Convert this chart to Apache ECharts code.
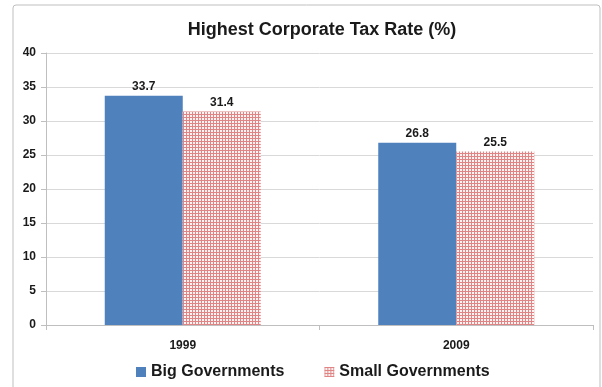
<!DOCTYPE html>
<html><head><meta charset="utf-8">
<script src="https://cdn.jsdelivr.net/npm/echarts@6/dist/echarts.min.js"></script>
<style>html,body{margin:0;padding:0;background:#fff}#c{width:602px;height:387px}</style>
</head><body><div id="c"></div>
<script>
const categories = ['1999', '2009'];
const bigGov = [33.7, 26.8];
const smallGov = [31.4, 25.5];
const yTicks = [0, 5, 10, 15, 20, 25, 30, 35, 40];

function makePattern() {
  const c = document.createElement('canvas');
  c.width = 3; c.height = 3;
  const g = c.getContext('2d');
  g.fillStyle = '#fdf2f2'; g.fillRect(0, 0, 3, 3);
  g.fillStyle = '#e08585';
  g.fillRect(0, 0, 3, 1);
  g.fillRect(0, 0, 1, 3);
  return c;
}
const pattern = { image: makePattern(), repeat: 'repeat' };

const chart = echarts.init(document.getElementById('c'), null, { renderer: 'canvas' });
const font = 'Liberation Sans, Arial, sans-serif';
chart.setOption({
  animation: false,
  textStyle: { fontFamily: font },
  title: {
    text: 'Highest Corporate Tax Rate (%)',
    left: 317, top: 16, textAlign: 'center',
    textStyle: { fontSize: 18, fontWeight: 'bold', color: '#1a1a1a', fontFamily: font }
  },
  graphic: [{
    type: 'rect', shape: { x: 13, y: 5, width: 587, height: 390, r: 3 },
    style: { fill: 'none', stroke: '#bfbfbf', lineWidth: 1 }, z: -1
  }],
  legend: {
    bottom: 2, left: 131, itemGap: 40, itemWidth: 10, itemHeight: 10,
    icon: 'rect',
    textStyle: { fontSize: 16, fontWeight: 'bold', color: '#1a1a1a', fontFamily: font },
    data: ['Big Governments', 'Small Governments']
  },
  grid: { left: 46, right: 9, top: 53, bottom: 62 },
  xAxis: {
    type: 'category', data: categories,
    axisLine: { lineStyle: { color: '#bfbfbf' } },
    axisTick: { show: true, alignWithLabel: false, length: 5, lineStyle: { color: '#bfbfbf' } },
    axisLabel: { fontSize: 12, fontWeight: 'bold', color: '#1a1a1a', margin: 15 }
  },
  yAxis: {
    type: 'value', min: yTicks[0], max: yTicks[yTicks.length - 1], interval: 5,
    axisLine: { show: true, lineStyle: { color: '#bfbfbf' } },
    axisTick: { show: true, length: 5, lineStyle: { color: '#bfbfbf' } },
    splitLine: { lineStyle: { color: '#d9d9d9' } },
    axisLabel: { fontSize: 12, fontWeight: 'bold', color: '#1a1a1a', margin: 10 }
  },
  series: [{
    name: 'Big Governments', type: 'bar', data: bigGov, barWidth: 78, barGap: '0%',
    itemStyle: { color: '#4f81bd' },
    label: { show: true, position: 'top', fontSize: 12, fontWeight: 'bold', color: '#1a1a1a', distance: 3 }
  }, {
    name: 'Small Governments', type: 'bar', data: smallGov, barWidth: 78,
    itemStyle: { color: pattern },
    label: { show: true, position: 'top', fontSize: 12, fontWeight: 'bold', color: '#1a1a1a', distance: 3 }
  }],
  color: ['#4f81bd', '#e08585']
});
</script></body></html>
